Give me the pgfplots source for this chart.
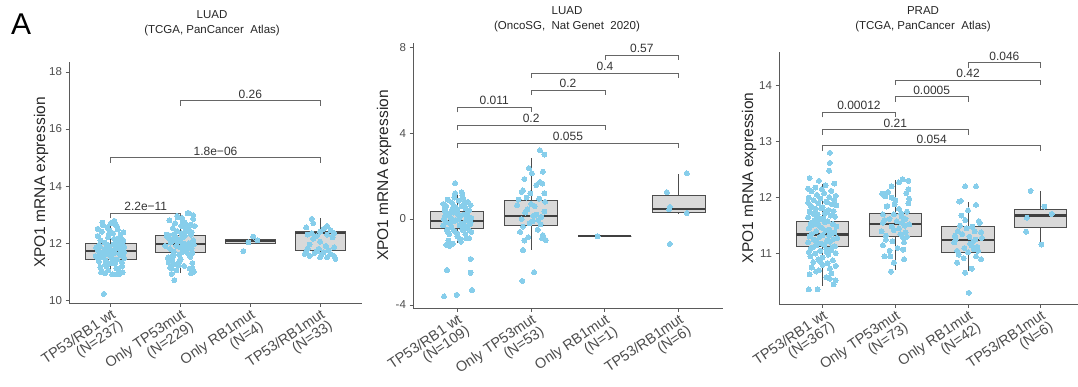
\documentclass[border=0pt]{standalone}
\usepackage{pgfplots}
\usepackage{pgfplotstable}
\pgfplotsset{compat=1.18}
\usepgfplotslibrary{statistics}
\usepackage{fontspec}
\setmainfont{Liberation Sans}
\definecolor{ptc}{HTML}{87CEEB}
\definecolor{boxfill}{HTML}{D9D9D9}
\definecolor{boxline}{HTML}{4D4D4D}
\definecolor{axcol}{HTML}{5A5A5A}
\definecolor{txt}{HTML}{4D4D4D}

\pgfplotsset{
 panel/.style={
  scale only axis, anchor=south west, clip=false,
  axis x line*=bottom, axis y line*=left,
  axis line style={axcol, line width=1pt, -},
  xmin=0.4, xmax=4.6,
  xtick={1,2,3,4},
  tick align=outside, major tick length=3.5pt,
  tick style={axcol, line width=0.9pt},
  y tick label style={font=\fontsize{11.5}{12}\selectfont, text=txt},
  x tick label style={font=\fontsize{14.5}{13.5}\selectfont, text=txt, rotate=34, anchor=north east, align=right, inner sep=1pt},
  /pgf/number format/assume math mode=true,
  boxplot/draw direction=y,
  boxplot/every box/.style={fill=boxfill, draw=boxline, line width=0.9pt},
  boxplot/every whisker/.style={draw=boxline, line width=0.9pt},
  boxplot/every median/.style={draw=black!75, line width=2.2pt},
  boxplot/whisker extend=0,
 },
 jit/.style={only marks, mark=*, mark size=2.5pt, color=ptc, mark options={solid, fill=ptc, draw=ptc, line width=0pt}},
 bx/.style={boxplot prepared={#1, box extend=0.72}, draw=boxline, mark=none},
}
\tikzset{brk/.style={draw=black!60, line width=0.8pt}}
\newcommand{\brk}[5]{%
 \draw[brk] ([yshift=-5pt]axis cs:#1,#4) -- (axis cs:#1,#4) -- (axis cs:#2,#4) -- ([yshift=-5pt]axis cs:#2,#4);
 \node[anchor=base, font=\fontsize{12}{12}\selectfont, text=black!80, yshift=2.5pt, inner sep=0pt] at (axis cs:#3,#4) {#5};}

\pgfplotstableread{
g o y
1 -0.17 11.72
1 0.05 11.65
1 -0.08 11.80
1 0.14 11.58
1 -0.02 11.90
1 0.19 11.70
1 -0.13 11.50
1 0.09 11.85
1 -0.05 11.62
1 0.16 11.95
1 -0.19 11.76
1 0.02 11.45
1 0.11 12.05
1 -0.11 11.68
1 0.07 11.38
1 -0.15 12.10
1 0.18 11.55
1 -0.04 12.20
1 0.13 11.82
1 0.00 11.30
1 -0.17 11.92
1 0.05 12.15
1 -0.08 11.25
1 0.14 12.30
1 -0.02 11.60
1 0.19 11.88
1 -0.13 12.40
1 0.09 11.42
1 -0.05 12.55
1 0.16 11.20
1 -0.19 12.25
1 0.02 11.74
1 0.11 11.10
1 -0.11 12.62
1 0.07 11.98
1 -0.15 11.15
1 0.18 12.38
1 -0.04 11.05
1 0.13 12.00
1 0.00 12.70
1 -0.17 11.35
1 0.05 12.78
1 -0.08 10.95
1 0.14 11.66
1 -0.02 12.45
1 0.19 11.48
1 -0.13 11.00
1 0.09 12.58
1 -0.05 11.78
1 0.16 11.32
1 -0.19 12.50
1 0.02 10.90
1 0.11 12.18
1 -0.11 11.52
1 0.07 12.66
1 -0.15 11.58
1 0.18 12.08
1 -0.04 11.83
1 0.13 10.92
1 0.00 11.55
1 -0.12 12.72
1 0.08 11.12
1 -0.16 11.88
1 0.03 12.35
1 -0.07 11.40
1 0.15 12.12
1 -0.01 11.70
1 0.10 12.48
1 -0.14 10.98
1 0.06 11.28
1 -0.09 12.02
1 0.17 11.92
1 -0.03 12.28
1 0.12 11.62
1 -0.18 11.44
1 0.04 11.96
1 -0.06 11.18
1 -0.10 10.22
1 0.17 10.98
1 0.08 10.90
1 -0.21 11.85
1 -0.22 11.55
1 0.01 11.50
1 -0.06 11.95
1 0.06 11.78
2 0.12 12.00
2 -0.06 11.90
2 0.18 12.10
2 -0.15 11.80
2 0.03 12.20
2 -0.10 11.70
2 0.15 12.30
2 -0.02 11.60
2 0.08 12.40
2 -0.18 11.50
2 0.10 12.50
2 -0.12 11.40
2 0.01 12.60
2 0.17 11.30
2 -0.08 12.70
2 0.05 11.20
2 -0.16 12.80
2 0.13 11.10
2 -0.04 12.90
2 0.19 11.00
2 0.19 11.95
2 -0.04 12.05
2 0.13 11.85
2 -0.16 12.15
2 0.05 11.75
2 -0.08 12.25
2 0.17 11.65
2 0.01 12.35
2 -0.12 11.55
2 0.10 12.45
2 -0.18 11.45
2 0.08 12.55
2 -0.02 11.35
2 0.15 12.65
2 -0.10 11.25
2 0.03 12.75
2 -0.15 11.15
2 0.18 12.85
2 -0.06 11.05
2 0.12 13.05
2 -0.14 12.02
2 0.07 11.92
2 -0.01 12.12
2 0.16 11.82
2 -0.19 12.22
2 0.04 11.72
2 -0.09 12.32
2 0.11 11.62
2 -0.05 12.42
2 0.14 11.52
2 -0.11 12.52
2 0.00 11.42
2 0.09 12.62
2 -0.17 11.32
2 0.06 12.72
2 -0.03 11.22
2 0.18 12.98
2 -0.13 11.12
2 0.02 12.88
2 0.15 10.95
2 0.04 11.98
2 -0.13 12.08
2 0.14 11.88
2 -0.07 12.18
2 0.09 11.78
2 -0.17 12.28
2 0.02 11.68
2 0.16 12.38
2 -0.10 11.58
2 0.07 12.48
2 -0.09 10.70
2 -0.13 10.92
2 0.17 11.12
2 0.10 13.05
2 -0.05 12.95
2 0.20 12.60
2 -0.20 12.30
2 -0.22 11.90
2 0.00 11.85
2 -0.06 12.10
2 0.06 12.25
3 -0.10 11.72
3 0.04 12.23
3 -0.03 12.03
3 0.10 12.10
4 -0.20 12.55
4 -0.12 12.85
4 0.00 12.40
4 0.10 12.30
4 0.20 12.35
4 -0.18 12.30
4 -0.05 12.25
4 0.15 12.45
4 -0.10 12.15
4 0.05 12.50
4 0.18 12.20
4 -0.15 11.95
4 0.08 11.90
4 -0.02 11.80
4 0.12 11.75
4 -0.20 11.70
4 -0.08 11.65
4 0.02 11.60
4 0.20 11.55
4 -0.15 11.55
4 0.10 11.50
4 -0.22 11.62
4 0.05 11.68
4 0.15 11.62
4 -0.05 11.72
4 0.00 12.05
4 0.20 11.85
4 -0.12 12.35
4 0.10 12.60
4 -0.10 12.70
4 0.00 11.50
4 0.22 11.45
4 -0.18 11.80
}\dataA

\pgfplotstableread{
g o y
1 -0.03 1.67
1 -0.14 -2.37
1 0.18 -1.86
1 0.18 -2.50
1 0.20 -3.30
1 -0.18 -3.60
1 -0.01 -3.53
1 -0.15 -1.20
1 -0.06 -1.15
1 0.12 -0.90
1 -0.10 -1.25
1 0.05 -1.05
1 -0.17 0.10
1 0.05 -0.20
1 -0.08 0.35
1 0.14 -0.45
1 -0.02 0.55
1 0.19 0.05
1 -0.13 -0.60
1 0.09 0.70
1 -0.05 -0.10
1 0.16 0.40
1 -0.19 -0.30
1 0.02 0.85
1 0.11 -0.70
1 -0.11 0.20
1 0.07 -0.50
1 -0.15 0.60
1 0.18 -0.15
1 -0.04 1.00
1 0.13 0.25
1 0.00 -0.80
1 -0.17 0.45
1 0.05 0.15
1 -0.08 -0.40
1 0.14 0.80
1 -0.02 -0.05
1 0.19 -0.60
1 -0.13 0.90
1 0.09 -0.25
1 -0.05 0.30
1 0.16 -0.90
1 -0.19 0.70
1 0.02 0.00
1 0.11 0.50
1 -0.11 -0.70
1 0.07 1.10
1 -0.15 -0.15
1 0.18 0.65
1 -0.04 -0.55
1 0.13 -0.35
1 0.00 0.40
1 -0.12 -1.00
1 0.08 0.95
1 -0.16 0.30
1 0.03 -0.30
1 -0.07 0.75
1 0.15 0.10
1 -0.01 -0.65
1 0.10 0.20
1 -0.14 -0.50
1 0.06 0.60
1 -0.09 0.05
1 0.17 -0.25
1 -0.03 1.20
1 0.12 -0.05
1 -0.18 0.00
1 0.04 -0.95
1 -0.06 0.50
1 0.01 0.20
1 -0.10 -0.20
1 0.06 1.25
2 0.12 3.20
2 0.18 3.00
2 -0.03 2.37
2 0.01 2.13
2 0.16 2.20
2 -0.09 1.86
2 0.07 1.58
2 0.15 1.65
2 -0.13 1.26
2 -0.01 1.20
2 0.18 1.20
2 0.12 1.72
2 -0.11 1.33
2 -0.11 -1.44
2 -0.12 -2.88
2 0.04 -2.47
2 0.20 -0.98
2 -0.17 0.90
2 0.05 0.60
2 -0.08 0.30
2 0.14 0.10
2 -0.02 -0.20
2 0.19 0.80
2 -0.13 0.00
2 0.09 -0.50
2 -0.05 0.45
2 0.16 -0.75
2 -0.19 0.65
2 0.02 -0.10
2 0.11 0.95
2 -0.11 -0.35
2 0.07 0.20
2 -0.15 -0.60
2 0.18 0.35
2 -0.04 -0.85
2 0.13 -0.25
2 0.00 0.70
2 -0.09 -1.00
2 0.10 -0.05
2 0.03 0.15
2 -0.06 1.00
2 0.15 -0.90
3 -0.10 -0.80
4 -0.16 1.25
4 0.11 0.28
4 -0.12 0.56
4 -0.13 0.45
4 -0.12 -1.16
4 0.11 2.13
}\dataB

\pgfplotstableread{
g o y
1 -0.15 12.11
1 0.02 12.08
1 0.12 12.12
1 -0.08 12.05
1 0.18 12.03
1 -0.19 12.00
1 -0.03 11.98
1 0.09 12.01
1 -0.12 11.95
1 0.05 11.93
1 0.16 11.96
1 -0.06 11.90
1 0.13 11.88
1 -0.20 11.91
1 -0.16 11.85
1 0.00 11.83
1 0.19 11.86
1 -0.10 11.80
1 0.08 11.78
1 -0.02 11.81
1 -0.18 11.75
1 0.04 11.73
1 0.15 11.76
1 -0.07 11.70
1 0.11 11.68
1 -0.13 11.71
1 -0.20 11.65
1 0.01 11.63
1 0.17 11.66
1 -0.11 11.60
1 0.07 11.58
1 -0.03 11.61
1 -0.16 11.55
1 0.14 11.53
1 0.03 11.56
1 -0.05 11.50
1 0.19 11.48
1 -0.14 11.51
1 -0.19 11.45
1 0.09 11.43
1 -0.01 11.46
1 -0.09 11.40
1 0.16 11.38
1 0.04 11.41
1 -0.15 11.35
1 0.00 11.33
1 0.12 11.36
1 -0.04 11.30
1 0.20 11.28
1 -0.18 11.31
1 -0.12 11.25
1 0.06 11.23
1 0.15 11.26
1 -0.20 11.20
1 -0.02 11.18
1 0.10 11.21
1 -0.08 11.15
1 0.17 11.13
1 0.02 11.16
1 -0.16 11.10
1 0.05 11.08
1 0.13 11.11
1 -0.03 11.05
1 -0.19 11.03
1 0.11 11.06
1 -0.10 11.00
1 0.08 10.98
1 0.18 11.01
1 -0.17 10.95
1 0.00 10.93
1 -0.06 10.90
1 0.14 10.88
1 -0.13 10.85
1 0.07 10.83
1 0.00 10.80
1 0.18 10.78
1 -0.15 10.75
1 0.10 10.73
1 -0.05 10.70
1 0.12 10.65
1 -0.18 10.63
1 0.05 10.58
1 -0.09 10.68
1 0.03 11.72
1 -0.07 11.52
1 0.09 11.32
1 -0.12 11.12
1 0.06 11.92
1 -0.01 12.15
1 -0.07 11.62
1 0.07 11.42
1 -0.09 11.22
1 0.06 11.02
1 -0.03 10.85
1 0.10 12.80
1 0.10 12.62
1 0.09 12.48
1 -0.18 12.35
1 -0.20 12.16
1 -0.10 12.18
1 0.16 12.25
1 0.04 12.22
1 -0.05 12.30
1 -0.19 10.36
1 -0.07 10.36
1 0.15 10.45
1 0.18 10.52
1 0.10 10.55
2 -0.18 12.07
2 -0.05 12.20
2 0.05 12.27
2 0.15 12.08
2 -0.12 11.84
2 -0.15 10.95
2 -0.02 10.84
2 -0.06 10.68
2 0.11 11.07
2 0.12 11.20
2 -0.17 11.70
2 0.10 12.33
2 0.18 12.30
2 0.18 12.15
2 -0.10 12.10
2 -0.17 11.55
2 0.05 11.45
2 -0.08 11.62
2 0.14 11.38
2 -0.02 11.70
2 0.19 11.52
2 -0.13 11.32
2 0.09 11.66
2 -0.05 11.48
2 0.16 11.75
2 -0.19 11.40
2 0.02 11.58
2 0.11 11.28
2 -0.11 11.85
2 0.07 11.35
2 -0.15 11.60
2 0.18 11.90
2 -0.04 11.22
2 0.13 11.50
2 0.00 11.95
2 -0.17 11.15
2 0.05 11.80
2 -0.08 11.05
2 0.14 11.62
2 -0.02 11.42
2 0.19 11.98
2 -0.13 11.25
2 0.09 11.55
2 -0.05 12.00
2 0.16 11.30
2 -0.07 10.95
2 0.03 11.10
2 -0.01 11.88
2 0.08 11.72
2 -0.14 12.02
2 0.12 10.90
3 -0.04 12.20
3 0.11 12.20
3 -0.12 11.93
3 -0.10 11.94
3 0.11 11.87
3 0.00 11.77
3 0.01 10.30
3 -0.04 10.66
3 0.05 10.73
3 -0.15 10.84
3 0.18 10.90
3 -0.17 11.25
3 0.05 11.15
3 -0.08 11.35
3 0.14 11.05
3 -0.02 11.45
3 0.19 11.28
3 -0.13 10.98
3 0.09 11.40
3 -0.05 11.10
3 0.16 11.55
3 -0.19 11.20
3 0.02 11.30
3 0.11 10.95
3 -0.11 11.50
3 0.07 11.22
3 -0.15 11.05
3 0.18 11.38
3 -0.04 11.60
3 0.13 11.12
3 0.00 11.02
3 -0.09 11.68
3 0.06 11.48
3 -0.14 11.40
3 0.10 11.25
3 -0.06 10.92
3 0.15 11.58
3 0.03 11.18
3 -0.18 11.32
3 0.08 11.08
4 -0.14 12.12
4 0.05 11.84
4 0.15 11.71
4 -0.19 11.64
4 -0.20 11.39
4 0.01 11.16
}\dataC

\begin{document}
\begin{tikzpicture}[x=1pt,y=1pt]
\useasboundingbox (0,0) rectangle (1078,386);
\node[anchor=base west, font=\fontsize{30}{30}\selectfont, inner sep=0pt] at (11,351) {A};

% titles
\node[align=center, font=\fontsize{11.5}{15}\selectfont, text=black!85] at (212,362.5) {LUAD\\(TCGA, PanCancer~~Atlas)};
\node[align=center, font=\fontsize{11.5}{15}\selectfont, text=black!85] at (567,367) {LUAD\\(OncoSG,~~Nat Genet~~2020)};
\node[align=center, font=\fontsize{11.5}{15}\selectfont, text=black!85] at (923,367) {PRAD\\(TCGA, PanCancer~~Atlas)};

% y labels
\node[rotate=90, font=\fontsize{15.5}{16}\selectfont, text=black!85] at (41,203.5) {XPO1 mRNA expression};
\node[rotate=90, font=\fontsize{15.5}{16}\selectfont, text=black!85] at (384,210.5) {XPO1 mRNA expression};
\node[rotate=90, font=\fontsize{15.5}{16}\selectfont, text=black!85] at (749,208) {XPO1 mRNA expression};

% Panel 1
\begin{axis}[panel, at={(69pt,83pt)}, width=293pt, height=241pt,
  ymin=9.9, ymax=18.35, ytick={10,12,14,16,18},
  xticklabels={{TP53/RB1 wt\\(N=237)},{Only TP53mut\\(N=229)},{Only RB1mut\\(N=4)},{TP53/RB1mut\\(N=33)}}]
\addplot[bx={lower whisker=10.88, lower quartile=11.44, median=11.72, upper quartile=12.0, upper whisker=12.72, draw position=1}] coordinates {};
\addplot[bx={lower whisker=10.95, lower quartile=11.68, median=11.96, upper quartile=12.28, upper whisker=13.05, draw position=2}] coordinates {};
\addplot[bx={lower whisker=12.0, lower quartile=12.0, median=12.06, upper quartile=12.14, upper whisker=12.14, draw position=3}] coordinates {};
\addplot[bx={lower whisker=11.5, lower quartile=11.75, median=12.35, upper quartile=12.42, upper whisker=12.88, draw position=4}] coordinates {};
\addplot[jit] table[x expr=\thisrow{g}+\thisrow{o}, y=y] {\dataA};
\brk{1}{2}{1.5}{13.05}{2.2e−11}
\brk{1}{4}{2.5}{15.0}{1.8e−06}
\brk{2}{4}{3}{17.0}{0.26}
\end{axis}

% Panel 2
\begin{axis}[panel, at={(413pt,78pt)}, width=310pt, height=265pt,
  ymin=-4.14, ymax=8.19, ytick={-4,0,4,8},
  xticklabels={{TP53/RB1 wt\\(N=109)},{Only TP53mut\\(N=53)},{Only RB1mut\\(N=1)},{TP53/RB1mut\\(N=6)}}]
\addplot[bx={lower whisker=-1.1, lower quartile=-0.42, median=-0.09, upper quartile=0.37, upper whisker=1.16, draw position=1}] coordinates {};
\addplot[bx={lower whisker=-1.44, lower quartile=-0.28, median=0.14, upper quartile=0.88, upper whisker=2.85, draw position=2}] coordinates {};
\addplot[bx={lower whisker=-0.8, lower quartile=-0.8, median=-0.8, upper quartile=-0.8, upper whisker=-0.8, draw position=3}] coordinates {};
\addplot[bx={lower whisker=0.28, lower quartile=0.3, median=0.47, upper quartile=1.12, upper whisker=2.1, draw position=4}] coordinates {};
\addplot[jit] table[x expr=\thisrow{g}+\thisrow{o}, y=y] {\dataB};
\brk{3}{4}{3.5}{7.63}{0.57}
\brk{2}{4}{3}{6.79}{0.4}
\brk{2}{3}{2.5}{6.0}{0.2}
\brk{1}{2}{1.5}{5.2}{0.011}
\brk{1}{3}{2}{4.37}{0.2}
\brk{1}{4}{2.5}{3.53}{0.055}
\end{axis}

% Panel 3
\begin{axis}[panel, at={(779pt,82pt)}, width=299.5pt, height=252pt, xmax=4.52,
  ymin=10.1, ymax=14.6, ytick={11,12,13,14},
  xticklabels={{TP53/RB1 wt\\(N=367)},{Only TP53mut\\(N=73)},{Only RB1mut\\(N=42)},{TP53/RB1mut\\(N=6)}}]
\addplot[bx={lower whisker=10.43, lower quartile=11.12, median=11.34, upper quartile=11.57, upper whisker=12.25, draw position=1}] coordinates {};
\addplot[bx={lower whisker=10.71, lower quartile=11.3, median=11.53, upper quartile=11.71, upper whisker=12.32, draw position=2}] coordinates {};
\addplot[bx={lower whisker=10.69, lower quartile=11.02, median=11.25, upper quartile=11.48, upper whisker=11.93, draw position=3}] coordinates {};
\addplot[bx={lower whisker=11.16, lower quartile=11.46, median=11.68, upper quartile=11.79, upper whisker=12.12, draw position=4}] coordinates {};
\addplot[jit] table[x expr=\thisrow{g}+\thisrow{o}, y=y] {\dataC};
\brk{3}{4}{3.5}{14.41}{0.046}
\brk{2}{4}{3}{14.1}{0.42}
\brk{2}{3}{2.5}{13.8}{0.0005}
\brk{1}{2}{1.5}{13.52}{0.00012}
\brk{1}{3}{2}{13.21}{0.21}
\brk{1}{4}{2.5}{12.93}{0.054}
\end{axis}
\end{tikzpicture}
\end{document}
